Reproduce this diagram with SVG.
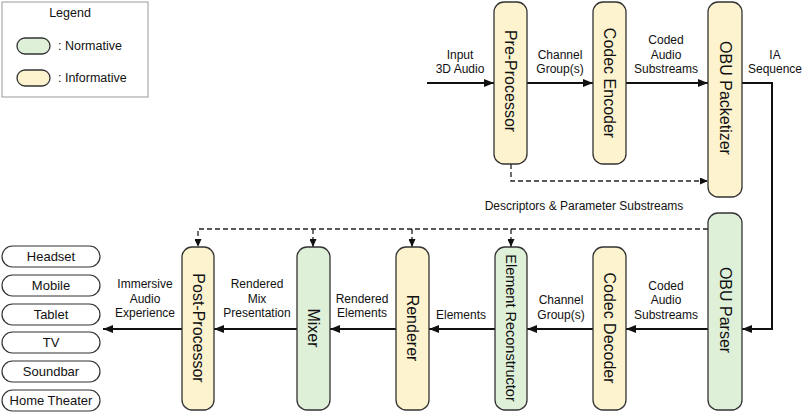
<svg xmlns="http://www.w3.org/2000/svg" width="808" height="412" viewBox="0 0 808 412">
<style>
  text { font-family: "Liberation Sans", Arial, sans-serif; fill: #111; }
  .lbl { font-size: 12px; text-anchor: middle; }
  .box { stroke: #333; stroke-width: 1.3; }
  .norm { fill: #dff0d9; }
  .info { fill: #fdf3cf; }
  .btxt { font-size: 16px; text-anchor: middle; dominant-baseline: central; }
  .dev { fill: #fff; stroke: #333; stroke-width: 1.2; }
  .dtxt { font-size: 13px; text-anchor: middle; dominant-baseline: central; }
  .line { fill: none; stroke: #111; stroke-width: 2; }
  .dash { fill: none; stroke: #222; stroke-width: 1.3; stroke-dasharray: 5 3; }
</style>
<defs>
  <marker id="ah" markerWidth="10" markerHeight="8" refX="10" refY="4" orient="auto" markerUnits="userSpaceOnUse">
    <path d="M0,0 L10,4 L0,8 Z" fill="#111"/>
  </marker>
  <marker id="ahs" markerWidth="8" markerHeight="7" refX="8" refY="3.5" orient="auto" markerUnits="userSpaceOnUse">
    <path d="M0,0 L8,3.5 L0,7 Z" fill="#111"/>
  </marker>
</defs>
<rect width="808" height="412" fill="#fff"/>

<g id="legend">
  <rect x="2" y="2" width="146" height="95" fill="#fff" stroke="#999" stroke-width="1"/>
  <text x="70" y="17" style="font-size:12.5px" text-anchor="middle">Legend</text>
  <rect x="17" y="38" width="33" height="16" rx="8" class="box norm"/>
  <text x="58" y="50" style="font-size:12.5px">: Normative</text>
  <rect x="17" y="70" width="33" height="16" rx="8" class="box info"/>
  <text x="58" y="82" style="font-size:12.5px">: Informative</text>
</g>

<g id="connectors">
  <line x1="427" y1="83" x2="494" y2="83" class="line" marker-end="url(#ah)"/>
  <line x1="527" y1="83" x2="593" y2="83" class="line" marker-end="url(#ah)"/>
  <line x1="626" y1="83" x2="708" y2="83" class="line" marker-end="url(#ah)"/>
  <polyline points="742,83 772,83 772,329 742,329" class="line" marker-end="url(#ah)"/>
  <line x1="708" y1="329" x2="626" y2="329" class="line" marker-end="url(#ah)"/>
  <line x1="593" y1="329" x2="527" y2="329" class="line" marker-end="url(#ah)"/>
  <line x1="495" y1="329" x2="429" y2="329" class="line" marker-end="url(#ah)"/>
  <line x1="396" y1="329" x2="330" y2="329" class="line" marker-end="url(#ah)"/>
  <line x1="297" y1="329" x2="214" y2="329" class="line" marker-end="url(#ah)"/>
  <line x1="182" y1="329" x2="103" y2="329" class="line" marker-end="url(#ah)"/>
  <polyline points="511,164 511,181 708,181" class="dash" marker-end="url(#ahs)"/>
  <polyline points="708,229 198,229 198,247" class="dash" marker-end="url(#ahs)"/>
  <line x1="313" y1="229" x2="313" y2="247" class="dash" marker-end="url(#ahs)"/>
  <line x1="412" y1="229" x2="412" y2="247" class="dash" marker-end="url(#ahs)"/>
  <line x1="511" y1="229" x2="511" y2="247" class="dash" marker-end="url(#ahs)"/>
</g>

<g id="labels">
  <text class="lbl" x="460" y="59">Input</text>
  <text class="lbl" x="460" y="73">3D Audio</text>
  <text class="lbl" x="560" y="59">Channel</text>
  <text class="lbl" x="560" y="73">Group(s)</text>
  <text class="lbl" x="666" y="44">Coded</text>
  <text class="lbl" x="666" y="59">Audio</text>
  <text class="lbl" x="666" y="73">Substreams</text>
  <text class="lbl" x="775" y="59">IA</text>
  <text class="lbl" x="775" y="73">Sequence</text>
  <text class="lbl" x="584" y="210">Descriptors &amp; Parameter Substreams</text>
  <text class="lbl" x="666" y="290">Coded</text>
  <text class="lbl" x="666" y="304">Audio</text>
  <text class="lbl" x="666" y="319">Substreams</text>
  <text class="lbl" x="561" y="304">Channel</text>
  <text class="lbl" x="561" y="319">Group(s)</text>
  <text class="lbl" x="461" y="319">Elements</text>
  <text class="lbl" x="362" y="303">Rendered</text>
  <text class="lbl" x="362" y="317">Elements</text>
  <text class="lbl" x="257" y="288">Rendered</text>
  <text class="lbl" x="257" y="303">Mix</text>
  <text class="lbl" x="257" y="317">Presentation</text>
  <text class="lbl" x="145" y="288">Immersive</text>
  <text class="lbl" x="145" y="303">Audio</text>
  <text class="lbl" x="145" y="317">Experience</text>
</g>

<g id="pre-processor">
  <rect x="494" y="2" width="33" height="162" rx="10" class="box info"/>
  <text class="btxt" transform="translate(510.5,81) rotate(90)">Pre-Processor</text>
</g>
<g id="codec-encoder">
  <rect x="593" y="2" width="33" height="162" rx="10" class="box info"/>
  <text class="btxt" transform="translate(609.5,83) rotate(90)">Codec Encoder</text>
</g>
<g id="obu-packetizer">
  <rect x="708" y="2" width="34" height="195" rx="10" class="box info"/>
  <text class="btxt" transform="translate(725,98) rotate(90)">OBU Packetizer</text>
</g>
<g id="obu-parser">
  <rect x="708" y="213" width="34" height="197" rx="10" class="box norm"/>
  <text class="btxt" transform="translate(725,310) rotate(90)">OBU Parser</text>
</g>
<g id="codec-decoder">
  <rect x="593" y="247" width="33" height="163" rx="10" class="box info"/>
  <text class="btxt" transform="translate(609.5,328) rotate(90)">Codec Decoder</text>
</g>
<g id="element-reconstructor">
  <rect x="495" y="247" width="32" height="163" rx="10" class="box norm"/>
  <text class="btxt" style="font-size:14.5px" transform="translate(511,328) rotate(90)">Element Reconstructor</text>
</g>
<g id="renderer">
  <rect x="396" y="247" width="33" height="163" rx="10" class="box info"/>
  <text class="btxt" transform="translate(412.5,328) rotate(90)">Renderer</text>
</g>
<g id="mixer">
  <rect x="297" y="247" width="33" height="163" rx="10" class="box norm"/>
  <text class="btxt" transform="translate(313.5,328) rotate(90)">Mixer</text>
</g>
<g id="post-processor">
  <rect x="182" y="247" width="32" height="163" rx="10" class="box info"/>
  <text class="btxt" transform="translate(198,328) rotate(90)">Post-Processor</text>
</g>

<g id="dev-headset"><rect x="2" y="246" width="98" height="21" rx="10.5" class="dev"/><text class="dtxt" x="51" y="256.5">Headset</text></g>
<g id="dev-mobile"><rect x="2" y="275" width="98" height="21" rx="10.5" class="dev"/><text class="dtxt" x="51" y="285.5">Mobile</text></g>
<g id="dev-tablet"><rect x="2" y="304" width="98" height="21" rx="10.5" class="dev"/><text class="dtxt" x="51" y="314.5">Tablet</text></g>
<g id="dev-tv"><rect x="2" y="332" width="98" height="21" rx="10.5" class="dev"/><text class="dtxt" x="51" y="342.5">TV</text></g>
<g id="dev-soundbar"><rect x="2" y="361" width="98" height="21" rx="10.5" class="dev"/><text class="dtxt" x="51" y="371.5">Soundbar</text></g>
<g id="dev-home-theater"><rect x="2" y="390" width="98" height="21" rx="10.5" class="dev"/><text class="dtxt" x="51" y="400.5">Home Theater</text></g>
</svg>
